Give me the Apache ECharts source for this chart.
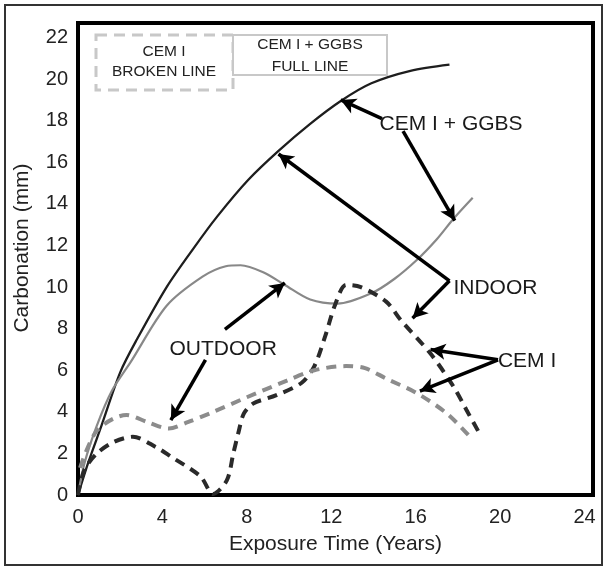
<!DOCTYPE html>
<html>
<head>
<meta charset="utf-8">
<script src="https://cdn.jsdelivr.net/npm/echarts@6/dist/echarts.min.js"></script>
<style>
html,body{margin:0;padding:0;background:#fff;}
#chart{width:606px;height:567px;}
</style>
</head>
<body>
<div id="chart"></div>
<script>
// ---- data (years, carbonation mm) ----
const xTicks = [0, 4, 8, 12, 16, 20, 24];
const yTicks = [0, 2, 4, 6, 8, 10, 12, 14, 16, 18, 20, 22];

const ggbsIndoor = [[0,0],[0.5,1.6],[1.1,3.3],[2.0,5.9],[2.8,7.5],[4.2,10.0],[5.5,11.9],[6.6,13.4],[8.06,15.15],[9.5,16.55],[11.0,17.85],[12.45,18.95],[13.9,19.8],[15.75,20.4],[17.6,20.7]];
const ggbsOutdoor = [[0,0],[0.3,1.5],[0.88,3.3],[1.6,5.0],[2.5,6.4],[4.2,9.1],[5.9,10.5],[7.0,11.0],[7.7,11.05],[8.8,10.7],[9.8,10.1],[11.0,9.4],[12.3,9.2],[13.9,9.7],[15.0,10.4],[16.05,11.3],[17.0,12.3],[17.8,13.3],[18.7,14.3]];
const cemIndoor = [[0,0],[0.3,1.2],[0.9,2.0],[1.7,2.55],[2.6,2.8],[3.7,2.3],[4.4,1.85],[5.8,0.9],[6.4,0.05],[7.05,0.7],[7.36,2.0],[7.6,3.0],[7.85,3.9],[8.3,4.4],[9.4,4.8],[10.6,5.4],[11.2,6.2],[11.7,7.6],[12.2,9.2],[12.7,10.1],[13.4,10.0],[14.6,9.3],[15.3,8.4],[16.7,6.8],[17.8,5.2],[18.4,4.1],[19.0,3.0]];
const cemOutdoor = [[0.1,1.3],[0.9,3.1],[2.3,3.85],[3.3,3.5],[4.3,3.2],[5.2,3.5],[6.3,3.95],[8.0,4.7],[9.9,5.5],[11.2,6.0],[12.7,6.2],[13.6,6.1],[14.6,5.6],[16.05,4.9],[17.5,3.9],[18.66,2.7]];

const annotations = [[17.7,17.8,'CEM I + GGBS'],[19.8,9.9,'INDOOR'],[6.9,7.0,'OUTDOOR'],[21.3,6.4,'CEM I']];
const arrows = [
  [[14.4,18.1],[12.45,19.0]],
  [[15.4,17.5],[17.85,13.2]],
  [[17.6,10.3],[9.5,16.4]],
  [[17.6,10.3],[15.85,8.5]],
  [[6.96,7.97],[9.8,10.2]],
  [[6.04,6.5],[4.4,3.6]],
  [[19.9,6.5],[16.7,7.0]],
  [[19.9,6.5],[16.2,5.0]]
];
const legendTexts = ['CEM I', 'BROKEN LINE', 'CEM I + GGBS', 'FULL LINE'];
const xName = 'Exposure Time (Years)';
const yName = 'Carbonation (mm)';

const FONT = '"Liberation Sans", Arial, sans-serif';
const chart = echarts.init(document.getElementById('chart'), null, {renderer:'canvas'});

const option = {
  animation: false,
  backgroundColor: '#fff',
  textStyle: {fontFamily: FONT},
  grid: {left: 78, top: 23, right: 13, bottom: 72, containLabel: false, outerBoundsMode: 'none',
         show: true, borderColor: '#000', borderWidth: 4, backgroundColor: 'transparent'},
  xAxis: {
    type: 'value', min: 0, max: 24.4, interval: 4,
    name: xName, nameLocation: 'middle', nameGap: 39,
    nameTextStyle: {fontSize: 21, color: '#222', fontFamily: FONT},
    axisLine: {show: false}, axisTick: {show: false}, splitLine: {show: false},
    axisLabel: {fontSize: 20, color: '#222', margin: 12, fontFamily: FONT,
      formatter: v => xTicks.includes(v) ? String(v) : ''}
  },
  yAxis: {
    type: 'value', min: 0, max: 22.7, interval: 2,
    name: yName, nameLocation: 'middle', nameGap: 45, nameRotate: 90,
    nameTextStyle: {fontSize: 21, color: '#222', fontFamily: FONT, padding:[0,0,0,22]},
    axisLine: {show: false}, axisTick: {show: false}, splitLine: {show: false},
    axisLabel: {fontSize: 20, color: '#222', margin: 10, fontFamily: FONT,
      formatter: v => yTicks.includes(v) ? String(v) : ''}
  },
  series: [
    {name:'CEM I + GGBS indoor', type:'line', data: ggbsIndoor, smooth: 0.3, symbol:'none',
     lineStyle:{color:'#1e1e1e', width:2.3}},
    {name:'CEM I + GGBS outdoor', type:'line', data: ggbsOutdoor, smooth: 0.3, symbol:'none',
     lineStyle:{color:'#888', width:2.2}},
    {name:'CEM I indoor', type:'line', data: cemIndoor, smooth: 0.3, symbol:'none',
     lineStyle:{color:'#2a2a2a', width:4, type:[10,7]}},
    {name:'CEM I outdoor', type:'line', data: cemOutdoor, smooth: 0.3, symbol:'none',
     lineStyle:{color:'#8c8c8c', width:4, type:[10,7]}},
    {name:'arrows', type:'line', data: [], symbol:'none',
     markLine: {silent:true, symbol:['none','arrow'], symbolSize:[12,15], label:{show:false},
       lineStyle:{color:'#000', width:3.5, type:'solid'},
       emphasis:{disabled:true},
       data: arrows.map(a => [{coord:a[0]},{coord:a[1]}])}},
    {name:'labels', type:'scatter', symbolSize:1, silent:true, itemStyle:{color:'#fff', opacity:0},
     data: annotations.map(a => ({value:[a[0],a[1]], name:a[2]})),
     label:{show:true, position:[0,0], align:'center', verticalAlign:'middle',
            formatter: p => p.name, fontSize:21, color:'#1a1a1a', opacity:1, fontFamily: FONT}}
  ],
  graphic: [
    {type:'rect', shape:{x:5, y:5, width:597, height:560}, style:{fill:'none', stroke:'#333', lineWidth:2}, z:-1},
    {type:'rect', shape:{x:96, y:35, width:137, height:55}, style:{fill:'#fff', stroke:'#c8c8c8', lineWidth:3, lineDash:[11,7]}, z:10},
    {type:'rect', shape:{x:233, y:35, width:154, height:40}, style:{fill:'#fff', stroke:'#c8c8c8', lineWidth:2}, z:10},
    {type:'text', x:164, y:52, style:{text:legendTexts[0], font:'15.5px '+FONT, fill:'#222', align:'center', verticalAlign:'middle'}, z:11},
    {type:'text', x:164, y:72, style:{text:legendTexts[1], font:'15.5px '+FONT, fill:'#222', align:'center', verticalAlign:'middle'}, z:11},
    {type:'text', x:310, y:45, style:{text:legendTexts[2], font:'15.5px '+FONT, fill:'#222', align:'center', verticalAlign:'middle'}, z:11},
    {type:'text', x:310, y:67, style:{text:legendTexts[3], font:'15.5px '+FONT, fill:'#222', align:'center', verticalAlign:'middle'}, z:11}
  ]
};
chart.setOption(option);
</script>
</body>
</html>
